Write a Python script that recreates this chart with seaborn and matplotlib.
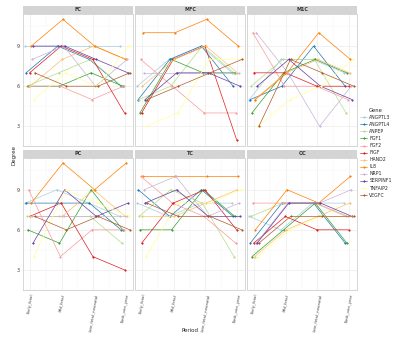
import matplotlib
matplotlib.use("Agg")
import matplotlib.pyplot as plt
from matplotlib.patches import Rectangle
import pandas as pd
import seaborn as sns

# Periodos y genes
periodos = ["Early_fetal", "Mid_fetal", "Late_fetal_neonatal", "Birth_one_year"]
genes = ["ANGPTL3", "ANGPTL4", "ANPEP", "FGF1", "FGF2", "FIGF",
         "HAND2", "IL8", "NRP1", "SERPINF1", "TNFAIP2", "VEGFC"]
regiones = ["FC", "MFC", "M1C", "PC", "TC", "OC"]

# Grado por region: una fila por gen, una columna por periodo
grado_fc = [[9, 9, 9, 9], [7, 9, 8, 6], [6, 7, 8, 6], [6, 6, 7, 6],
            [6, 6, 5, 6], [7, 9, 8, 4], [6, 8, 9, 8], [9, 11, 9, 8],
            [8, 9, 6, 8], [9, 9, 8, 7], [5, 7, 6, 9], [7, 6, 6, 7]]
grado_mfc = [[6, 8, 9, 7], [5, 8, 9, 6], [5, 6, 9, 7], [4, 8, 7, 7],
             [8, 6, 4, 4], [4, 8, 9, 2], [6, 8, 9, 7], [10, 10, 11, 9],
             [7, 7, 7, 7], [5, 7, 7, 6], [3, 4, 8, 8], [5, 6, 7, 8]]
grado_m1c = [[5, 8, 8, 7], [5, 6, 9, 6], [6, 8, 8, 4], [4, 7, 8, 7],
             [10, 6, 6, 5], [7, 7, 6, 6], [5, 7, 8, 7], [5, 7, 10, 8],
             [10, 7, 3, 6], [6, 8, 6, 5], [3, 5, 6, 8], [3, 8, 7, 6]]
grado_pc = [[8, 9, 8, 7], [8, 8, 8, 6], [7, 7, 7, 5], [6, 5, 9, 6],
            [9, 4, 6, 6], [7, 8, 4, 3], [7, 7, 9, 7], [8, 11, 9, 11],
            [7, 7, 7, 7], [5, 9, 7, 8], [4, 9, 8, 7], [7, 6, 7, 6]]
grado_tc = [[8, 7, 8, 8], [9, 7, 9, 7], [7, 9, 8, 4], [6, 6, 9, 7],
            [10, 8, 7, 5], [5, 8, 9, 6], [7, 7, 8, 9], [10, 10, 10, 10],
            [9, 10, 7, 8], [8, 9, 7, 7], [4, 8, 8, 9], [8, 7, 7, 6]]
grado_oc = [[7, 6, 8, 8], [5, 8, 8, 5], [7, 8, 8, 7], [4, 6, 8, 5],
            [8, 8, 8, 7], [5, 7, 6, 6], [4, 6, 7, 8], [6, 9, 8, 10],
            [5, 8, 8, 9], [5, 8, 8, 7], [4, 6, 7, 7], [5, 7, 7, 7]]

grados = {"FC": grado_fc, "MFC": grado_mfc, "M1C": grado_m1c,
          "PC": grado_pc, "TC": grado_tc, "OC": grado_oc}

# Se arma el DataFrame en formato largo
filas = []
for region in regiones:
    for gen, valores in zip(genes, grados[region]):
        for periodo, valor in zip(periodos, valores):
            filas.append({"Region": region, "Gene": gen,
                          "Period": periodo, "Degree": valor})
df = pd.DataFrame(filas)

colores = sns.color_palette("Paired", 12)

sns.set_theme(style="whitegrid")
plt.rcParams["font.family"] = ["DejaVu Sans"]

g = sns.FacetGrid(df, col="Region", col_wrap=3, col_order=regiones,
                  sharex=True, sharey=True, despine=False)
g.map_dataframe(sns.pointplot, x="Period", y="Degree", hue="Gene",
                order=periodos, hue_order=genes, palette=colores,
                dodge=0.3, errorbar=None, markersize=1.1, linewidth=0.5)

fig = g.figure
fig.set_size_inches(4, 3.39)
fig.subplots_adjust(left=23 / 400, right=357 / 400, top=1 - 14 / 339,
                    bottom=1 - 290 / 339, wspace=0.02, hspace=0.085)

handles, labels = g.axes[0].get_legend_handles_labels()

for ax in g.axes:
    if ax.get_legend() is not None:
        ax.get_legend().remove()
    ax.set_title("")
    ax.set_xlabel("")
    ax.set_ylabel("")
    ax.set_ylim(1.6, 11.4)
    ax.set_xlim(-0.22, 3.25)
    ax.set_yticks([3, 6, 9])
    ax.set_yticks([1.5, 4.5, 7.5, 10.5], minor=True)
    ax.set_xticks([0.5, 1.5, 2.5], minor=True)
    ax.grid(True, which="major", color="#EBEBEB", linewidth=0.5)
    ax.grid(True, which="minor", color="#F5F5F5", linewidth=0.3)
    ax.set_facecolor("white")
    for lado in ax.spines.values():
        lado.set_color("#D0D0D0")
        lado.set_linewidth(0.6)
    ax.tick_params(axis="both", which="major", labelsize=3.5, length=1.5,
                   width=0.4, color="#555555", pad=1, labelcolor="#444444")
    ax.tick_params(axis="both", which="minor", length=0)
    # Franja gris con el nombre de la region, estilo ggplot
    ax.add_patch(Rectangle((0, 1), 1, 8 / 132, transform=ax.transAxes,
                           facecolor="#D4D4D4", edgecolor="none",
                           clip_on=False))

for ax, region in zip(g.axes, regiones):
    ax.text(0.5, 1 + 4 / 132, region, transform=ax.transAxes,
            ha="center", va="center", fontsize=3.5, color="#333333",
            fontweight="bold")

for ax in g.axes[3:]:
    ax.set_xticks(range(len(periodos)))
    ax.set_xticklabels(periodos, rotation=80, ha="center", va="top",
                       fontsize=2.8)

fig.text(190 / 400, 1 - 331 / 339, "Period", ha="center", va="center",
         fontsize=4)
fig.text(14 / 400, 1 - 155 / 339, "Degree", ha="center", va="center",
         fontsize=4, rotation=90)

fig.legend(handles, labels, title="Gene", loc="upper left",
           bbox_to_anchor=(358 / 400, 1 - 106 / 339), frameon=False,
           fontsize=3.3, title_fontsize=3.8, handlelength=1.6,
           labelspacing=0.45, handletextpad=0.5, borderaxespad=0)

fig.savefig("out.png", dpi=100)
